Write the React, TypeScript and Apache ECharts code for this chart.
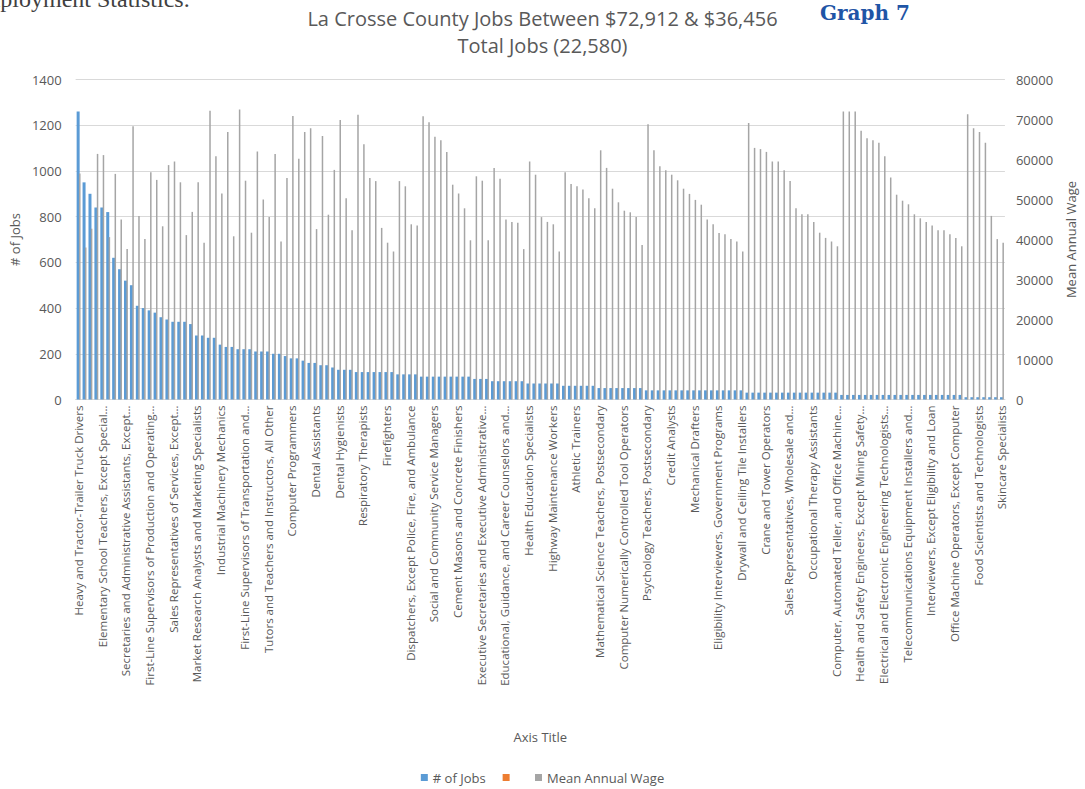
import React, { useEffect, useRef } from "react";
import * as echarts from "echarts";

// Visible category labels (every 4th occupation is labelled on the axis)
const visibleLabels: string[] = [
  "Heavy and Tractor-Trailer Truck Drivers",
  "Elementary School Teachers, Except Special…",
  "Secretaries and Administrative Assistants, Except…",
  "First-Line Supervisors of Production and Operating…",
  "Sales Representatives of Services, Except…",
  "Market Research Analysts and Marketing Specialists",
  "Industrial Machinery Mechanics",
  "First-Line Supervisors of Transportation and…",
  "Tutors and Teachers and Instructors, All Other",
  "Computer Programmers",
  "Dental Assistants",
  "Dental Hygienists",
  "Respiratory Therapists",
  "Firefighters",
  "Dispatchers, Except Police, Fire, and Ambulance",
  "Social and Community Service Managers",
  "Cement Masons and Concrete Finishers",
  "Executive Secretaries and Executive Administrative…",
  "Educational, Guidance, and Career Counselors and…",
  "Health Education Specialists",
  "Highway Maintenance Workers",
  "Athletic Trainers",
  "Mathematical Science Teachers, Postsecondary",
  "Computer Numerically Controlled Tool Operators",
  "Psychology Teachers, Postsecondary",
  "Credit Analysts",
  "Mechanical Drafters",
  "Eligibility Interviewers, Government Programs",
  "Drywall and Ceiling Tile Installers",
  "Crane and Tower Operators",
  "Sales Representatives, Wholesale and…",
  "Occupational Therapy Assistants",
  "Computer, Automated Teller, and Office Machine…",
  "Health and Safety Engineers, Except Mining Safety…",
  "Electrical and Electronic Engineering Technologists…",
  "Telecommunications Equipment Installers and…",
  "Interviewers, Except Eligibility and Loan",
  "Office Machine Operators, Except Computer",
  "Food Scientists and Technologists",
  "Skincare Specialists",
];
const labelEvery = 4;

// # of Jobs (primary axis)
const jobs: number[] = [
  1260, 950, 900, 840, 840, 820, 620, 570, 520, 500,
  410, 400, 390, 380, 360, 350, 340, 340, 340, 330,
  280, 280, 270, 270, 240, 230, 230, 220, 220, 220,
  210, 210, 210, 200, 200, 190, 180, 180, 170, 160,
  160, 150, 150, 140, 130, 130, 130, 120, 120, 120,
  120, 120, 120, 120, 110, 110, 110, 110, 100, 100,
  100, 100, 100, 100, 100, 100, 100, 90, 90, 90,
  80, 80, 80, 80, 80, 80, 70, 70, 70, 70,
  70, 70, 60, 60, 60, 60, 60, 60, 50, 50,
  50, 50, 50, 50, 50, 50, 40, 40, 40, 40,
  40, 40, 40, 40, 40, 40, 40, 40, 40, 40,
  40, 40, 40, 30, 30, 30, 30, 30, 30, 30,
  30, 30, 30, 30, 30, 30, 30, 30, 30, 20,
  20, 20, 20, 20, 20, 20, 20, 20, 20, 20,
  20, 20, 20, 20, 20, 20, 20, 20, 20, 20,
  10, 10, 10, 10, 10, 10, 10,
];

// Mean Annual Wage (secondary axis)
const wages: number[] = [
  56500, 38000, 42700, 61400, 61100, 40600, 56400, 45000, 37600, 68300,
  45900, 40100, 56800, 54900, 43300, 58600, 59500, 54300, 41100, 46900,
  54300, 39200, 72200, 60800, 51500, 66900, 40800, 72500, 54700, 41700,
  62000, 50000, 45600, 61400, 39500, 55400, 70900, 60200, 66900, 67800,
  42600, 65900, 46200, 57400, 69900, 50300, 42300, 71200, 63800, 55400,
  54600, 42900, 39200, 37000, 54600, 53300, 43800, 43500, 70800, 69300,
  65700, 64800, 61900, 53700, 51500, 47800, 39800, 55800, 54700, 39800,
  57900, 55200, 45000, 44400, 44200, 37600, 59500, 56200, 45600, 44400,
  43800, 37000, 56800, 53900, 53300, 52500, 50300, 47800, 62300, 57900,
  52700, 49300, 47200, 46800, 45600, 38600, 68800, 62300, 58300, 57300,
  56200, 54800, 52700, 51400, 49900, 48700, 45000, 43800, 41600, 41300,
  40100, 39500, 37000, 69100, 62900, 62600, 61900, 59500, 59500, 57300,
  54600, 47800, 46300, 46300, 44400, 41700, 40400, 39500, 38300, 72000,
  72000, 72000, 67200, 65300, 64800, 64200, 60800, 55500, 51200, 49700,
  48800, 46300, 45300, 44400, 43500, 42300, 42300, 41300, 40400, 38300,
  71300, 67800, 66900, 64200, 45900, 40100, 39200,
];

const jobsTicks = { min: 0, max: 1400, interval: 200 };
const wageTicks = { min: 0, max: 80000, interval: 10000 };

const titleLines = ["La Crosse County Jobs Between $72,912 & $36,456", "Total Jobs (22,580)"];
const seriesNames = ["# of Jobs", " ", "Mean Annual Wage"];

const categories: string[] = jobs.map((_, i) =>
  i % labelEvery === 0 ? visibleLabels[i / labelEvery] ?? "" : ""
);

const FONT = "'Open Sans', 'Noto Sans', sans-serif";
const GREY_TEXT = "#595959";
const plain = (v: number) => String(v);

export default function App() {
  const ref = useRef<HTMLDivElement>(null);

  useEffect(() => {
    document.body.style.margin = "0";
    if (!ref.current) return;
    const chart = echarts.init(ref.current, undefined, { renderer: "svg" });
    chart.setOption({
      animation: false,
      backgroundColor: "#ffffff",
      textStyle: { fontFamily: FONT },
      title: {
        text: titleLines.join("\n"),
        left: "center",
        top: 0,
        textStyle: {
          fontFamily: FONT,
          fontSize: 20,
          fontWeight: "normal",
          color: GREY_TEXT,
          lineHeight: 27,
        },
      },
      graphic: [
        {
          type: "text",
          left: 820,
          top: 3,
          style: {
            text: "Graph 7",
            font: "bold 20px 'DejaVu Serif', serif",
            fill: "#1f55a6",
          },
        },
        {
          type: "text",
          x: -33,
          y: -1,
          style: {
            text: "Employment Statistics.",
            font: "24px 'Liberation Serif', serif",
            fill: "#404040",
            verticalAlign: "middle",
          },
        },
      ],
      legend: {
        data: seriesNames,
        bottom: 0,
        left: "center",
        icon: "rect",
        itemWidth: 7,
        itemHeight: 7,
        itemGap: 17,
        textStyle: { fontFamily: FONT, fontSize: 13, color: GREY_TEXT },
      },
      grid: { left: 72, right: 78, top: 79.5, bottom: 389.5, containLabel: false },
      xAxis: [
        {
          type: "category",
          data: categories,
          name: "Axis Title",
          nameLocation: "middle",
          nameGap: 331,
          nameTextStyle: { fontFamily: FONT, fontSize: 13, color: GREY_TEXT },
          axisTick: { show: false },
          axisLine: { lineStyle: { color: "#d9d9d9", width: 1 } },
          axisLabel: {
            interval: labelEvery - 1,
            rotate: 90,
            margin: 6,
            fontSize: 11.5,
            color: GREY_TEXT,
            fontFamily: FONT,
          },
        },
        {
          type: "category",
          data: categories,
          show: false,
        },
      ],
      yAxis: [
        {
          type: "value",
          ...jobsTicks,
          name: "# of Jobs",
          nameLocation: "middle",
          nameRotate: 90,
          nameGap: 49,
          nameTextStyle: { fontFamily: FONT, fontSize: 13, color: GREY_TEXT },
          axisLine: { show: false },
          axisTick: { show: false },
          axisLabel: { fontSize: 13, color: GREY_TEXT, margin: 14, fontFamily: FONT, formatter: plain },
          splitLine: { lineStyle: { color: "#d9d9d9", width: 1 } },
        },
        {
          type: "value",
          position: "right",
          ...wageTicks,
          name: "Mean Annual Wage",
          nameLocation: "middle",
          nameRotate: 90,
          nameGap: 58,
          nameTextStyle: { fontFamily: FONT, fontSize: 13, color: GREY_TEXT },
          axisLine: { show: false },
          axisTick: { show: false },
          axisLabel: { fontSize: 13, color: GREY_TEXT, margin: 11, fontFamily: FONT, formatter: plain },
          splitLine: { show: false },
        },
      ],
      series: [
        {
          name: seriesNames[0],
          type: "bar",
          xAxisIndex: 0,
          yAxisIndex: 0,
          data: jobs,
          barWidth: 3,
          itemStyle: { color: "#5b9bd5" },
        },
        {
          name: seriesNames[1],
          type: "bar",
          xAxisIndex: 1,
          yAxisIndex: 0,
          data: [],
          itemStyle: { color: "#ed7d31" },
        },
        {
          name: seriesNames[2],
          type: "bar",
          xAxisIndex: 0,
          yAxisIndex: 1,
          data: wages,
          barWidth: 1.5,
          barGap: "-20%",
          itemStyle: { color: "#a5a5a5" },
        },
      ],
    });
    return () => chart.dispose();
  }, []);

  return <div ref={ref} style={{ width: 1085, height: 789 }} />;
}
